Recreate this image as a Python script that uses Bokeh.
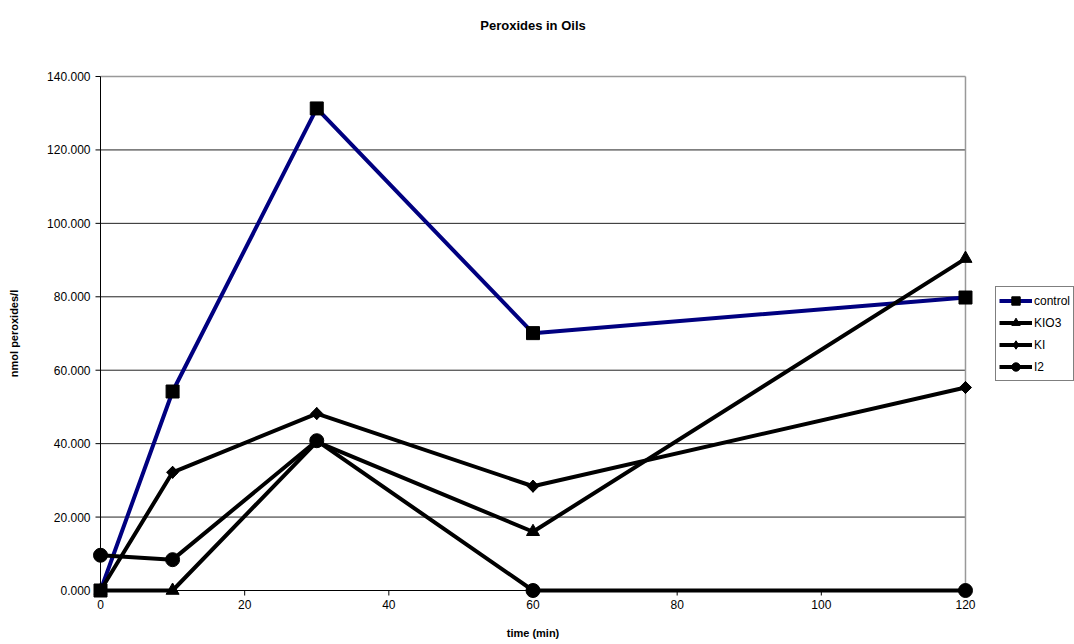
import math
from bokeh.plotting import figure
from bokeh.models import Legend, LegendItem, FixedTicker, NumeralTickFormatter, Range1d, Title
from bokeh.embed import file_html
from bokeh.resources import INLINE

time_min = [0, 10, 30, 60, 120]
control = [0.0, 54.2, 131.3, 70.1, 79.8]
kio3 = [0.0, 0.0, 40.5, 16.0, 90.4]
ki = [0.0, 32.2, 48.2, 28.4, 55.3]
i2 = [9.6, 8.4, 40.8, 0.0, 0.0]
series_names = ["control", "KIO3", "KI", "I2"]
x_ticks = [0, 20, 40, 60, 80, 100, 120]
y_ticks = [0, 20, 40, 60, 80, 100, 120, 140]

FONT = "Liberation Sans"
X_MIN, X_MAX = 0, 120
Y_MIN, Y_MAX = 0, 140
PX, PY = 1.25, 2.45  # range padding so that edge markers are not clipped
FRAME_W, FRAME_H = 883, 532
TICK_X = 5 * (X_MAX - X_MIN + 2 * PX) / FRAME_W   # 5 px tick length in data units
TICK_Y = 5 * (Y_MAX - Y_MIN + 2 * PY) / FRAME_H

p = figure(width=1074, height=644, output_backend="svg", toolbar_location=None,
           x_range=Range1d(X_MIN - PX, X_MAX + PX), y_range=Range1d(Y_MIN - PY, Y_MAX + PY),
           frame_width=FRAME_W, frame_height=FRAME_H,
           min_border_left=91, min_border_right=100, min_border_top=67, min_border_bottom=45,
           title="Peroxides in Oils")
p.title.align = "center"
p.title.text_font = FONT
p.title.text_font_size = "13px"
p.title.text_font_style = "bold"
p.title.text_color = "black"
p.title.standoff = 2
# empty spacer between the frame and the title
p.add_layout(Title(text=" ", text_font_size="1px", standoff=31), "above")

p.outline_line_color = None
p.background_fill_color = "white"
p.border_fill_color = "white"
p.xgrid.visible = False
p.ygrid.visible = False

# plot-area decorations drawn through the data scales
inner_y = y_ticks[1:-1]
p.segment(x0=[X_MIN] * len(inner_y), y0=inner_y, x1=[X_MAX] * len(inner_y), y1=inner_y,
          line_color="#222222", line_width=1)
p.segment(x0=[X_MIN, X_MAX], y0=[Y_MAX, Y_MIN], x1=[X_MAX, X_MAX], y1=[Y_MAX, Y_MAX],
          line_color="#999999", line_width=1.5)
# axis lines and outward ticks
p.segment(x0=[X_MIN, X_MIN], y0=[Y_MIN, Y_MIN], x1=[X_MIN, X_MAX], y1=[Y_MAX, Y_MIN],
          line_color="black", line_width=1)
p.segment(x0=[X_MIN - TICK_X] * len(y_ticks), y0=y_ticks, x1=[X_MIN] * len(y_ticks), y1=y_ticks,
          line_color="black", line_width=1)
p.segment(x0=x_ticks, y0=[Y_MIN - TICK_Y] * len(x_ticks), x1=x_ticks, y1=[Y_MIN] * len(x_ticks),
          line_color="black", line_width=1)

p.xaxis.ticker = FixedTicker(ticks=x_ticks)
p.yaxis.ticker = FixedTicker(ticks=y_ticks)
p.yaxis.formatter = NumeralTickFormatter(format="0.000")
for ax in (p.xaxis, p.yaxis):
    ax.axis_line_color = None
    ax.major_tick_line_color = None
    ax.major_tick_out = 0
    ax.major_tick_in = 0
    ax.minor_tick_line_color = None
    ax.major_label_text_font = FONT
    ax.major_label_text_font_size = "12px"
    ax.major_label_text_color = "black"
    ax.axis_label_text_font = FONT
    ax.axis_label_text_font_size = "11px"
    ax.axis_label_text_font_style = "bold"
    ax.axis_label_text_color = "black"
p.xaxis.axis_label = "time (min)"
p.yaxis.axis_label = "nmol peroxides/l"
p.xaxis.major_label_standoff = 0
p.yaxis.major_label_standoff = 1
p.xaxis.axis_label_standoff = 15
p.yaxis.axis_label_standoff = 24

lw = 4
l1 = p.line(time_min, control, line_color="#000080", line_width=lw)
m1 = p.scatter(time_min, control, marker="square", size=13, fill_color="black", line_color="black")
l2 = p.line(time_min, kio3, line_color="black", line_width=lw)
m2 = p.scatter(time_min, kio3, marker="triangle", size=13, fill_color="black", line_color="black")
l3 = p.line(time_min, ki, line_color="black", line_width=lw)
m3 = p.scatter(time_min, ki, marker="square", angle=math.pi / 4, size=8.5,
               fill_color="black", line_color="black")
m3b = p.scatter(time_min, ki, marker="diamond", size=12, fill_color="black", line_color="black")
l4 = p.line(time_min, i2, line_color="black", line_width=lw)
m4 = p.scatter(time_min, i2, marker="circle", size=14, fill_color="black", line_color="black")

legend = Legend(items=[LegendItem(label=series_names[0], renderers=[l1, m1]),
                       LegendItem(label=series_names[1], renderers=[l2, m2]),
                       LegendItem(label=series_names[2], renderers=[l3, m3b]),
                       LegendItem(label=series_names[3], renderers=[l4, m4])],
                location=(21, 218))
legend.label_text_font = FONT
legend.label_text_font_size = "12px"
legend.label_text_color = "black"
legend.border_line_color = "black"
legend.border_line_width = 1
legend.background_fill_alpha = 1
legend.glyph_width = 33
legend.glyph_height = 21
legend.label_standoff = 2
legend.spacing = 1
legend.padding = 3
legend.margin = 0
p.add_layout(legend, "right")

open("out.html", "w").write(file_html(p, INLINE))
